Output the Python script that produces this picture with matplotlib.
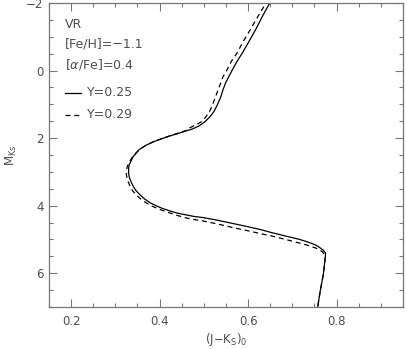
import matplotlib
matplotlib.use("Agg")
import matplotlib.pyplot as plt
from matplotlib.ticker import MultipleLocator

plt.rcParams['font.family'] = ['DejaVu Sans']
plt.rcParams['mathtext.fontset'] = 'dejavusans'

# isochrone Y=0.25 (solid), (J-Ks)_0 vs M_Ks
jk_y25 = [0.654, 0.651, 0.633, 0.617, 0.602, 0.587, 0.575, 0.564, 0.556, 0.549,
          0.543, 0.538, 0.531, 0.523, 0.513, 0.501, 0.489, 0.474, 0.459, 0.440,
          0.422, 0.402, 0.384, 0.371, 0.362, 0.353, 0.347, 0.340, 0.336, 0.332,
          0.330, 0.330, 0.330, 0.332, 0.336, 0.341, 0.347, 0.356, 0.366, 0.378,
          0.392, 0.406, 0.422, 0.440, 0.459, 0.478, 0.497, 0.527, 0.563, 0.602,
          0.629, 0.654, 0.685, 0.714, 0.734, 0.752, 0.762, 0.770, 0.775, 0.775,
          0.774, 0.770, 0.763, 0.757, 0.756]
mk_y25 = [-2.16, -2.05, -1.62, -1.21, -0.86, -0.52, -0.27, -0.01, 0.19, 0.37,
          0.58, 0.79, 1.00, 1.21, 1.38, 1.53, 1.64, 1.73, 1.79, 1.87,
          1.94, 2.03, 2.12, 2.20, 2.27, 2.35, 2.45, 2.55, 2.66, 2.77,
          2.86, 2.96, 3.06, 3.18, 3.31, 3.44, 3.56, 3.68, 3.80, 3.91,
          4.00, 4.08, 4.15, 4.22, 4.27, 4.32, 4.35, 4.42, 4.52, 4.63,
          4.71, 4.80, 4.90, 4.99, 5.07, 5.16, 5.24, 5.32, 5.40, 5.46,
          5.58, 6.04, 6.53, 7.03, 7.10]

# isochrone Y=0.29 (dashed)
jk_y29 = [0.647, 0.643, 0.623, 0.605, 0.589, 0.575, 0.562, 0.552, 0.543, 0.538,
          0.532, 0.526, 0.520, 0.513, 0.504, 0.494, 0.480, 0.467, 0.459, 0.440,
          0.422, 0.402, 0.384, 0.371, 0.361, 0.352, 0.344, 0.337, 0.331, 0.327,
          0.325, 0.325, 0.328, 0.333, 0.339, 0.348, 0.358, 0.370, 0.384, 0.402,
          0.422, 0.440, 0.459, 0.478, 0.497, 0.527, 0.563, 0.602, 0.629, 0.654,
          0.685, 0.714, 0.734, 0.752, 0.762, 0.769, 0.773, 0.774, 0.770, 0.763,
          0.757, 0.756]
mk_y29 = [-2.16, -2.05, -1.62, -1.21, -0.86, -0.52, -0.27, -0.01, 0.19, 0.37,
          0.58, 0.79, 1.00, 1.21, 1.38, 1.52, 1.62, 1.70, 1.78, 1.86,
          1.94, 2.03, 2.12, 2.20, 2.28, 2.37, 2.47, 2.59, 2.72, 2.84,
          2.96, 3.10, 3.26, 3.42, 3.56, 3.69, 3.81, 3.92, 4.02, 4.12,
          4.21, 4.29, 4.36, 4.41, 4.45, 4.53, 4.64, 4.75, 4.83, 4.90,
          5.00, 5.10, 5.17, 5.25, 5.31, 5.38, 5.46, 5.58, 6.04, 6.53,
          7.03, 7.10]

labels = ['VR', '[Fe/H]=\u22121.1', r'[$\alpha$/Fe]=0.4']
series_names = ['Y=0.25', 'Y=0.29']

gray = '#4d4d4d'
dash = (0, (4, 3))
fig = plt.figure(figsize=(4.07, 3.49), dpi=100)
ax = fig.add_axes([0.1204, 0.1203, 0.8696, 0.8711])

ax.plot(jk_y25, mk_y25, color='black', lw=0.9)
ax.plot(jk_y29, mk_y29, color='black', lw=0.9, ls=dash)

ax.set_xlim(0.15, 0.95)
ax.set_ylim(7, -2)
ax.xaxis.set_major_locator(MultipleLocator(0.2))
ax.xaxis.set_minor_locator(MultipleLocator(0.05))
ax.yaxis.set_major_locator(MultipleLocator(2))
ax.yaxis.set_minor_locator(MultipleLocator(0.5))
ax.tick_params(which='both', direction='in', top=True, right=True,
               color='#777777', labelcolor=gray, labelsize=8.5, width=0.8)
ax.tick_params(which='major', length=6)
ax.tick_params(which='minor', length=3)
ax.tick_params(axis='x', which='major', pad=6)
ax.tick_params(axis='y', which='major', pad=4)
for s in ax.spines.values():
    s.set_color('#777777')
    s.set_linewidth(0.9)

ax.set_xlabel(r'(J$-$K$_{\rm S}$)$_0$', color=gray, fontsize=8.5, labelpad=2)
ax.set_ylabel(r'M$_{\rm Ks}$', color=gray, fontsize=8.5, labelpad=5)

tx = 65 / 407
for i, lab in enumerate(labels):
    fig.text(tx, 1 - [24, 44, 65][i] / 349, lab, color=gray, fontsize=9, va='center')

# legend-like entries
for j, (ls, lab) in enumerate(zip(['-', dash], series_names)):
    yy = 1 - [93, 115][j] / 349
    fig.add_artist(plt.Line2D([65 / 407, 81 / 407], [yy, yy], color='black',
                              lw=0.9, ls=ls, transform=fig.transFigure))
    fig.text(87 / 407, yy, lab, color=gray, fontsize=9, va='center')

fig.savefig('out.png', dpi=100)
